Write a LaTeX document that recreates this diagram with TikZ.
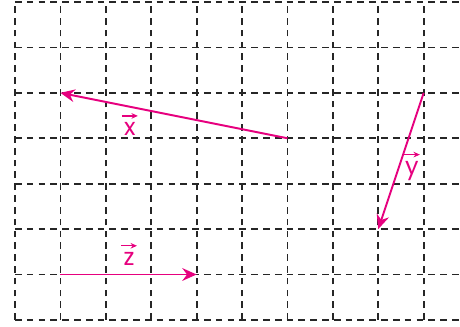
\documentclass[tikz,border=0pt]{standalone}
\usepackage{fontspec}
\setmainfont{Poppins}
\usetikzlibrary{positioning, arrows.meta}
\definecolor{vecpink}{HTML}{E6007E}

\begin{document}
\begin{tikzpicture}[
        gridline/.style={line width=1.1pt, black!85, dash pattern=on 4.2pt off 3.2pt},
        vecarr/.style={-{Stealth[length=9pt, width=8pt, inset=3pt]}, line width=1.2pt, vecpink},
        smallarr/.style={-{Stealth[length=4pt, width=3.5pt]}, line width=0.8pt, vecpink},
        veclabel/.style={font=\fontsize{15}{15}\selectfont, text=vecpink, inner sep=1pt},
    ]
        \useasboundingbox (-0.33,-0.155) rectangle (9.8,7.045);

        % Grid
        \foreach \i in {0,...,9}
            \draw[gridline] (\i,0) -- (\i,7);
        \foreach \j in {0,...,7}
            \draw[gridline] (0,\j) -- (9.8,\j);

        % End points
        \coordinate (xs) at (6,4);
        \coordinate (xe) at (1,5);
        \coordinate (ys) at (9,5);
        \coordinate (ye) at (8,2);
        \coordinate (zs) at (1,1);
        \coordinate (ze) at (4,1);

        % Vectors
        \draw[vecarr] (xs) -- (xe);
        \draw[vecarr] (ys) -- (ye);
        \draw[vecarr] (zs) -- (ze);

        % Labels
        \node[veclabel] (lx) at (2.53,4.2) {x};
        \node[veclabel] (ly) at (8.74,3.28) {y};
        \node[veclabel] (lz) at (2.51,1.34) {z};
        \draw[smallarr] ([xshift=-5pt, yshift=3pt]lx.north) -- ++(10pt,0);
        \draw[smallarr] ([xshift=-5pt, yshift=3pt]ly.north) -- ++(10pt,0);
        \draw[smallarr] ([xshift=-5pt, yshift=3pt]lz.north) -- ++(10pt,0);
    \end{tikzpicture}
\end{document}
